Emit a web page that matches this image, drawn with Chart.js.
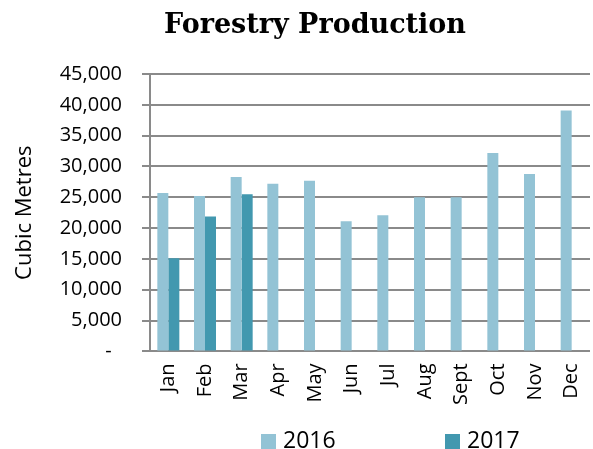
<!DOCTYPE html>
<html>
<head>
<meta charset="utf-8">
<script src="https://cdn.jsdelivr.net/npm/chart.js"></script>
<style>
  body { margin: 0; background: #fff; }
  #wrap { position: relative; width: 593px; height: 449px; }
  #title { position: absolute; left: 0; top: 8px; width: 630px; text-align: center;
    font: bold 27px "DejaVu Serif", serif; color: #000; }
  .leg { position: absolute; top: 423px; font: 23px "Open Sans", sans-serif; color: #000; }
  .leg span { display: inline-block; width: 15px; height: 15px; margin-right: 7px; vertical-align: -1px; }
</style>
</head>
<body>
<div id="wrap">
  <canvas id="myChart" width="593" height="449"></canvas>
  <div id="title">Forestry Production</div>
  <div class="leg" style="left:261px"><span style="background:#93c3d5"></span>2016</div>
  <div class="leg" style="left:445px"><span style="background:#4298af"></span>2017</div>
</div>
<script>
// data
const months = ['Jan', 'Feb', 'Mar', 'Apr', 'May', 'Jun', 'Jul', 'Aug', 'Sept', 'Oct', 'Nov', 'Dec'];
const prod2016 = [25700, 25200, 28300, 27200, 27700, 21100, 22100, 25000, 25000, 32200, 28800, 39100];
const prod2017 = [15100, 21900, 25500, null, null, null, null, null, null, null, null, null];

const gridGrey = '#8a8a8a';

const data = {
  labels: months,
  datasets: [{
    label: '2016',
    backgroundColor: '#93c3d5',
    data: prod2016
  }, {
    label: '2017',
    backgroundColor: '#4298af',
    data: prod2017
  }]
};

const config = {
  type: 'bar',
  data,
  options: {
    responsive: false,
    animation: false,
    layout: { padding: { top: 74, right: 3, bottom: 32, left: 0 } },
    datasets: { bar: { categoryPercentage: 0.6, barPercentage: 1 } },
    plugins: { legend: { display: false }, tooltip: { enabled: false } },
    scales: {
      x: {
        afterFit: function(scale) { scale.paddingRight = 0; scale.paddingLeft = 0; },
        grid: { display: false, drawTicks: false },
        border: { display: false },
        ticks: {
          color: '#000',
          font: { family: 'Open Sans', size: 20 },
          minRotation: 90, maxRotation: 90,
          padding: 12
        }
      },
      y: {
        min: 0, max: 45000,
        afterFit: function(scale) { scale.width = 150; },
        grid: { color: gridGrey, lineWidth: 2, tickLength: 8 },
        border: { color: gridGrey, width: 2 },
        ticks: {
          stepSize: 5000,
          color: '#000',
          font: { family: 'Open Sans', size: 20 },
          padding: 20,
          callback: function(v) { return v === 0 ? '-  ' : v.toLocaleString('en-US'); }
        },
        title: {
          display: true,
          text: 'Cubic Metres',
          color: '#000',
          font: { family: 'Open Sans', size: 22 },
          padding: { top: 12, bottom: 0 }
        }
      }
    }
  }
};

var myChart = new Chart(document.getElementById('myChart'), config);
</script>
</body>
</html>
